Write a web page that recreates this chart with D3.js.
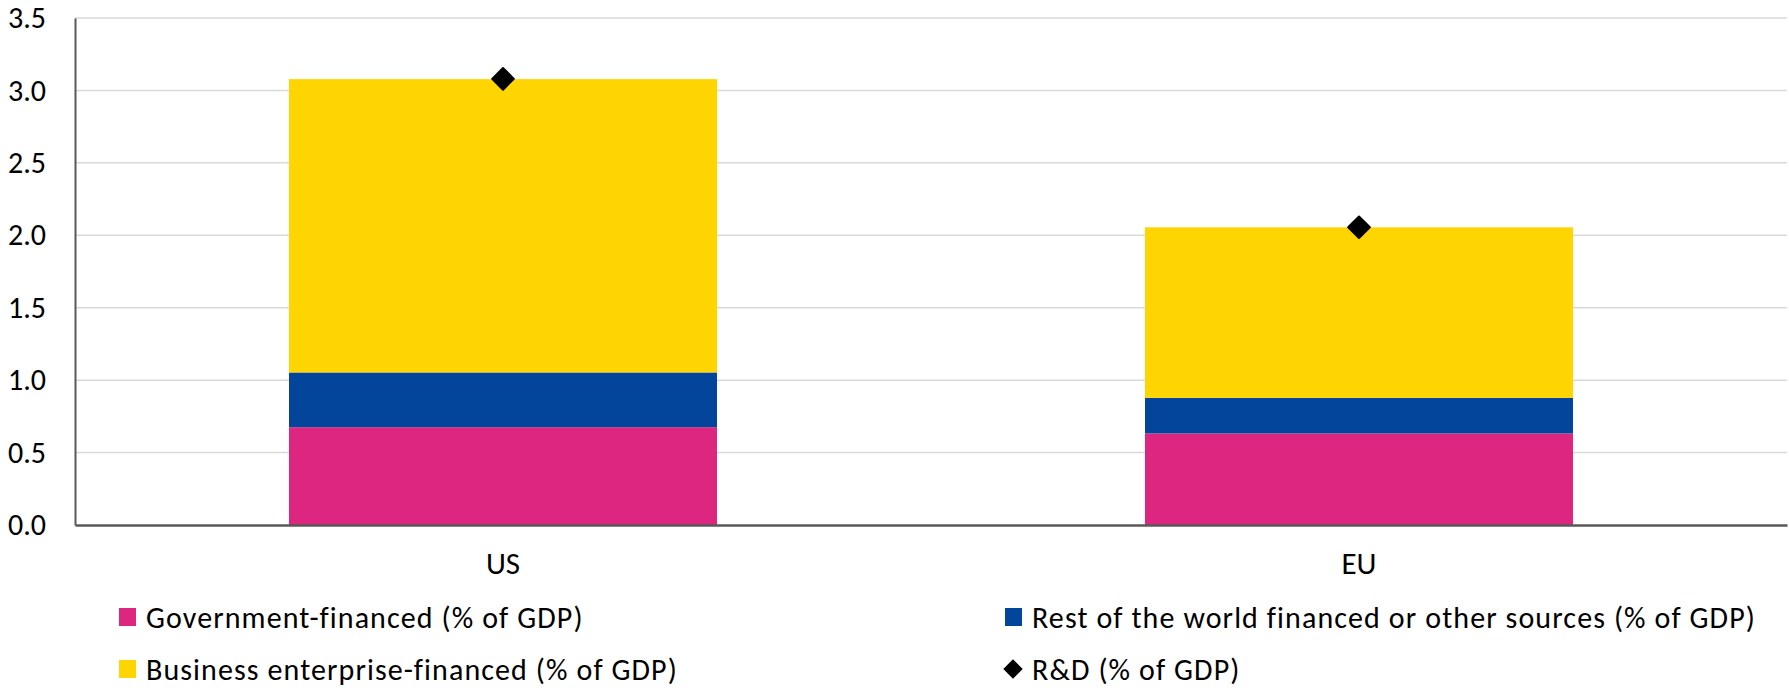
<!DOCTYPE html>
<html>
<head>
<meta charset="utf-8">
<script src="https://cdn.jsdelivr.net/npm/d3@7"></script>
<style>
  body { margin: 0; background: #fff; }
  svg text { font-family: Carlito, Calibri, Lato, "Liberation Sans", sans-serif; fill: #000; }
</style>
</head>
<body>
<svg id="chart" width="1789" height="688"></svg>
<script>
var regions = ["US", "EU"];
var govFinanced = [0.675, 0.632];
var restOfWorld = [0.378, 0.246];
var businessFinanced = [2.025, 1.177];
var rdTotal = [3.08, 2.055];
var yTicks = [0, 0.5, 1.0, 1.5, 2.0, 2.5, 3.0, 3.5];

var seriesKeys = ["gov", "row", "bus"];
var seriesNames = {
    gov: "Government-financed (% of GDP)",
    row: "Rest of the world financed or other sources (% of GDP)",
    bus: "Business enterprise-financed (% of GDP)"
};
var colors = {gov: "#dc2680", row: "#03459a", bus: "#fed500"};

var rows = regions.map(function(r, i) {
    return {region: r, gov: govFinanced[i], row: restOfWorld[i], bus: businessFinanced[i], total: rdTotal[i]};
});

var svg = d3.select("#chart");
var margin = {top: 18, right: 2, bottom: 163, left: 75},
    width = +svg.attr("width") - margin.left - margin.right,
    height = +svg.attr("height") - margin.top - margin.bottom,
    g = svg.append("g").attr("transform", "translate(" + margin.left + "," + margin.top + ")");

var x = d3.scaleBand()
    .domain(regions)
    .range([0, width])
    .paddingInner(0.5)
    .paddingOuter(0.25);

var y = d3.scaleLinear()
    .domain([0, 3.5])
    .range([height, 0]);

// gridlines
g.append("g")
    .selectAll("line")
    .data(yTicks.slice(1))
    .enter().append("line")
    .attr("x1", 0)
    .attr("x2", width)
    .attr("y1", function(d) { return y(d); })
    .attr("y2", function(d) { return y(d); })
    .attr("stroke", "#d9d9d9")
    .attr("stroke-width", 1.5);

var stack = d3.stack().keys(seriesKeys);

g.selectAll(".serie")
    .data(stack(rows))
    .enter().append("g")
    .attr("class", "serie")
    .attr("fill", function(d) { return colors[d.key]; })
    .selectAll("rect")
    .data(function(d) { return d; })
    .enter().append("rect")
    .attr("x", function(d) { return x(d.data.region); })
    .attr("width", x.bandwidth())
    .attr("y", function(d) { return y(d[1]); })
    .attr("height", function(d) { return y(d[0]) - y(d[1]); });

// R&D diamonds
var diamond = d3.symbol().type(d3.symbolDiamond2).size(300);
g.selectAll(".rd")
    .data(rows)
    .enter().append("path")
    .attr("class", "rd")
    .attr("d", diamond)
    .attr("fill", "#000")
    .attr("stroke", "#000")
    .attr("stroke-linejoin", "round")
    .attr("stroke-width", 2)
    .attr("transform", function(d) {
        return "translate(" + (x(d.region) + x.bandwidth() / 2) + "," + y(d.total) + ")";
    });

// y axis
var yAxis = g.append("g")
    .call(d3.axisLeft(y).tickValues(yTicks).tickFormat(d3.format(".1f")).tickSize(0).tickPadding(29));
yAxis.select(".domain").attr("stroke", "#595959").attr("stroke-width", 2);
yAxis.selectAll("text").style("font-size", "30px").attr("fill", "#000");

// x axis
var xAxis = g.append("g")
    .attr("transform", "translate(0," + height + ")")
    .call(d3.axisBottom(x).tickSize(0).tickPadding(27));
xAxis.select(".domain").attr("stroke", "#595959").attr("stroke-width", 2.5);
xAxis.selectAll("text").style("font-size", "31px").attr("fill", "#000");

// legend
var legendItems = [
    {key: "gov", x: 119, y: 617},
    {key: "row", x: 1005, y: 617},
    {key: "bus", x: 119, y: 669},
    {key: "rd", x: 1005, y: 669}
];

var legend = svg.selectAll(".legend")
    .data(legendItems)
    .enter().append("g")
    .attr("class", "legend")
    .attr("transform", function(d) { return "translate(" + d.x + "," + d.y + ")"; });

legend.filter(function(d) { return d.key !== "rd"; })
    .append("rect")
    .attr("x", 0)
    .attr("y", -9)
    .attr("width", 17)
    .attr("height", 18)
    .attr("fill", function(d) { return colors[d.key]; });

legend.filter(function(d) { return d.key === "rd"; })
    .append("path")
    .attr("d", d3.symbol().type(d3.symbolDiamond2).size(240))
    .attr("transform", "translate(8,0)")
    .attr("fill", "#000");

legend.append("text")
    .attr("x", 27)
    .attr("dy", "0.35em")
    .style("font-size", "30px")
    .style("letter-spacing", "1.1px")
    .text(function(d) { return d.key === "rd" ? "R&D (% of GDP)" : seriesNames[d.key]; });
</script>
</body>
</html>
